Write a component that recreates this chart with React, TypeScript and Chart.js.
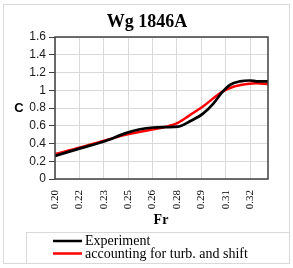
import React, { useEffect, useRef } from "react";
import { Chart, registerables } from "chart.js";

Chart.register(...registerables);

const chartTitle = "Wg 1846A";
const xTitle = "Fr";
const yTitle = "C";

const xTickValues = [0.2, 0.215, 0.23, 0.245, 0.26, 0.275, 0.29, 0.305, 0.32];
const xTickLabels = ["0.20", "0.22", "0.23", "0.25", "0.26", "0.28", "0.29", "0.31", "0.32"];

const frExp = [0.2, 0.2154, 0.2297, 0.2441, 0.2523, 0.2605, 0.2687, 0.2758, 0.283, 0.2912, 0.2974, 0.3025, 0.3076, 0.3138, 0.3199, 0.324, 0.3312];
const cExp = [0.26, 0.345, 0.42, 0.52, 0.56, 0.58, 0.585, 0.59, 0.65, 0.74, 0.85, 0.97, 1.06, 1.1, 1.11, 1.1, 1.1];

const frModel = [0.2, 0.2154, 0.2297, 0.2441, 0.2605, 0.2687, 0.2758, 0.283, 0.2912, 0.2974, 0.3025, 0.3097, 0.3179, 0.324, 0.3312];
const cModel = [0.28, 0.355, 0.43, 0.5, 0.56, 0.59, 0.635, 0.72, 0.82, 0.91, 0.98, 1.04, 1.07, 1.08, 1.07];

const seriesNames = ["Experiment", "accounting for turb. and shift"];
const seriesColors = ["#000000", "#ff0000"];

const decorPlugin = {
  id: "decor",
  beforeDraw(chart: any) {
    const ctx = chart.ctx;
    ctx.save();
    ctx.fillStyle = "#ffffff";
    ctx.fillRect(0, 0, chart.width, chart.height);
    ctx.restore();
  },
  afterDraw(chart: any) {
    const ctx = chart.ctx;
    const a = chart.chartArea;
    ctx.save();
    // outer frame
    ctx.strokeStyle = "#d9d9d9";
    ctx.lineWidth = 1;
    ctx.strokeRect(3.5, 4.5, 286, 259);
    // plot border
    ctx.strokeStyle = "#404040";
    ctx.lineWidth = 1.5;
    ctx.strokeRect(a.left, a.top, a.right - a.left, a.bottom - a.top);
    // title
    ctx.fillStyle = "#000";
    ctx.textAlign = "center";
    ctx.textBaseline = "middle";
    ctx.font = "bold 18px 'Liberation Serif', serif";
    ctx.fillText(chartTitle, 147, 22);
    // axis titles
    ctx.font = "bold 14px 'Liberation Serif', serif";
    ctx.fillText(xTitle, 161, 220);
    ctx.font = "bold 13px 'Liberation Sans', Arial, sans-serif";
    ctx.fillText(yTitle, 19, 108);
    // legend box
    ctx.strokeStyle = "#d9d9d9";
    ctx.lineWidth = 1;
    ctx.strokeRect(26.5, 232.5, 263, 31);
    ctx.textAlign = "left";
    ctx.font = "14px 'Liberation Serif', serif";
    const rows = [241, 253.5];
    seriesNames.forEach((name, i) => {
      ctx.strokeStyle = seriesColors[i];
      ctx.lineWidth = 2.5;
      ctx.beginPath();
      ctx.moveTo(53, rows[i]);
      ctx.lineTo(82, rows[i]);
      ctx.stroke();
      ctx.fillStyle = "#000";
      ctx.fillText(name, 85, rows[i] + 0.5);
    });
    ctx.restore();
  },
};

export default function App() {
  const ref = useRef<HTMLCanvasElement | null>(null);
  useEffect(() => {
    document.body.style.margin = "0";
    const canvas = ref.current!;
    const chart = new Chart(canvas, {
      type: "line",
      data: {
        datasets: [
          {
            label: seriesNames[0],
            data: frExp.map((x, i) => ({ x, y: cExp[i] })),
            borderColor: seriesColors[0],
            borderWidth: 2.7,
            pointRadius: 0,
            tension: 0.4,
            cubicInterpolationMode: "monotone",
          },
          {
            label: seriesNames[1],
            data: frModel.map((x, i) => ({ x, y: cModel[i] })),
            borderColor: seriesColors[1],
            borderWidth: 2.5,
            pointRadius: 0,
            tension: 0.4,
            cubicInterpolationMode: "monotone",
          },
        ],
      },
      options: {
        responsive: false,
        animation: false,
        devicePixelRatio: 1,
        layout: { padding: { left: 0, top: 37, right: 25, bottom: 0 } },
        plugins: { legend: { display: false }, title: { display: false }, tooltip: { enabled: false } },
        scales: {
          x: {
            type: "linear",
            min: 0.2,
            max: 0.331,
            afterBuildTicks: (scale: any) => {
              scale.ticks = xTickValues.map((v) => ({ value: v }));
            },
            afterFit: (scale: any) => {
              scale.height = 89;
            },
            grid: { color: "#d9d9d9", lineWidth: 1, tickLength: 5, tickColor: "rgba(0,0,0,0)" },
            border: { display: false },
            ticks: {
              minRotation: 90,
              maxRotation: 90,
              padding: 6,
              color: "#000",
              font: { family: "'Liberation Serif', serif", size: 11 },
              callback: (_v: any, i: number) => xTickLabels[i],
            },
          },
          y: {
            min: 0,
            max: 1.6,
            afterFit: (scale: any) => {
              scale.width = 55;
            },
            grid: { color: "#d9d9d9", lineWidth: 1, tickLength: 6, tickColor: "#404040" },
            border: { display: false },
            ticks: {
              stepSize: 0.2,
              padding: 3,
              color: "#1a1a1a",
              font: { family: "'Liberation Sans', Arial, sans-serif", size: 12 },
              callback: (v: any) => String(Math.round(Number(v) * 10) / 10),
            },
          },
        },
      },
      plugins: [decorPlugin],
    } as any);
    return () => chart.destroy();
  }, []);
  return <canvas ref={ref} width={293} height={268} style={{ display: "block", width: 293, height: 268 }} />;
}
